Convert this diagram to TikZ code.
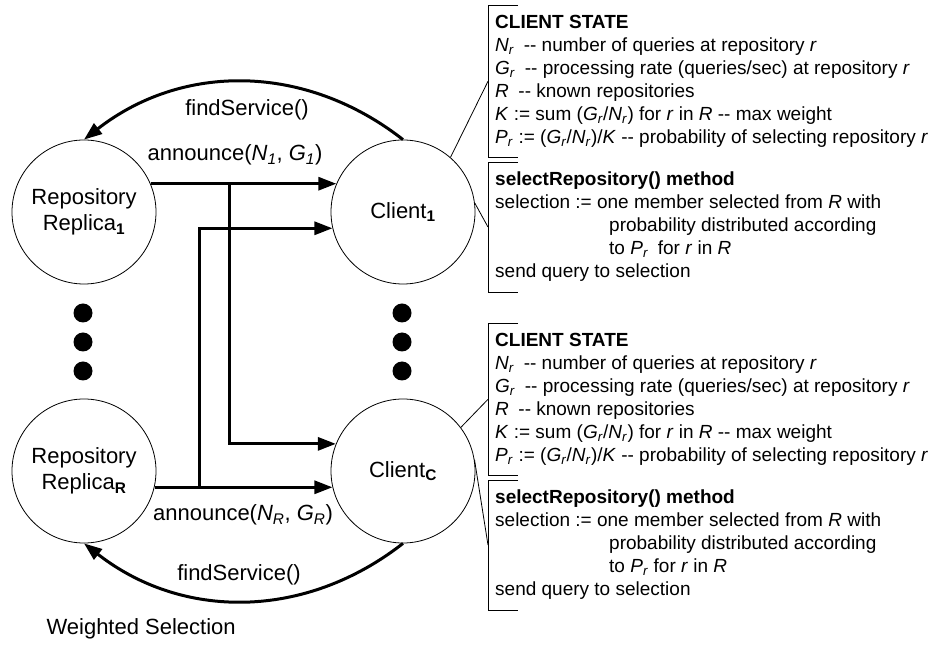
\documentclass[tikz,border=0pt]{standalone}
\usepackage{fontspec}
\setmainfont{Liberation Sans}
\usetikzlibrary{arrows.meta}
\tikzset{site/.style = {shape = circle, draw, line width = 0.8pt, minimum size = 144pt, inner sep = 0pt, align = center, font = \fontsize{22}{26}\selectfont}}
\tikzset{msg/.style = {-{Triangle[length = 18pt, width = 13pt]}, line width = 3pt}}
\tikzset{dot/.style = {shape = circle, fill, minimum size = 19pt, inner sep = 0pt}}
\tikzset{msgtext/.style = {font = \fontsize{22}{26}\selectfont}}
\tikzset{memo/.style = {anchor = north west, align = left, inner xsep = 7pt, inner ysep = 10pt, font = \fontsize{19}{23}\selectfont}}
\tikzset{bracket/.style = {line width = 0.8pt}}
\newcommand{\isub}[2]{\textit{#1}\textsubscript{\textit{#2}}}
\newcommand{\dd}{-{}-}

\begin{document}
\begin{tikzpicture}[x = 1pt, y = 1pt]
			\useasboundingbox (0, 0) rectangle (936, 645);

			\node[site] (rep1) at (84, 433) {Repository\\Replica\textsubscript{\textbf{1}}};
			\node[site] (cli1) at (403, 433) {Client\textsubscript{\textbf{1}}};
			\node[site] (repR) at (84, 174) {Repository\\Replica\textsubscript{\textbf{R}}};
			\node[site] (cliC) at (403, 174) {Client\textsubscript{\textbf{C}}};

			\node[dot] (ld1) at (83, 332) {};
			\node[dot] (ld2) at (83, 303) {};
			\node[dot] (ld3) at (83, 274) {};
			\node[dot] (rd1) at (402, 332) {};
			\node[dot] (rd2) at (402, 303) {};
			\node[dot] (rd3) at (402, 274) {};

			\node[msgtext] (find1) at (247, 535) {findService()};
			\node[msgtext] (ann1) at (235, 490) {announce(\isub{N}{1}, \isub{G}{1})};
			\node[msgtext] (annR) at (243, 130) {announce(\isub{N}{R}, \isub{G}{R})};
			\node[msgtext] (findR) at (239, 70) {findService()};
			\node[msgtext, anchor = west] (title) at (43, 16) {Weighted Selection};

			\node[memo] (st1) at (488, 640) {\textbf{CLIENT STATE}\\
				\isub{N}{r}\enspace\dd{} number of queries at repository \textit{r}\\
				\isub{G}{r}\enspace\dd{} processing rate (queries/sec) at repository \textit{r}\\
				\textit{R}\enspace\dd{} known repositories\\
				\textit{K} := sum (\isub{G}{r}/\isub{N}{r}) for \textit{r} in \textit{R} \dd{} max weight\\
				\isub{P}{r} := (\isub{G}{r}/\isub{N}{r})/\textit{K} \dd{} probability of selecting repository \textit{r}};
			\node[memo] (sel1) at (488, 483) {\textbf{selectRepository() method}\\
				selection := one member selected from \textit{R} with\\
				\hspace*{114pt}probability distributed according\\
				\hspace*{114pt}to \isub{P}{r}\enspace for \textit{r} in \textit{R}\\
				send query to selection};
			\node[memo] (st2) at (488, 322) {\textbf{CLIENT STATE}\\
				\isub{N}{r}\enspace\dd{} number of queries at repository \textit{r}\\
				\isub{G}{r}\enspace\dd{} processing rate (queries/sec) at repository \textit{r}\\
				\textit{R}\enspace\dd{} known repositories\\
				\textit{K} := sum (\isub{G}{r}/\isub{N}{r}) for \textit{r} in \textit{R} \dd{} max weight\\
				\isub{P}{r} := (\isub{G}{r}/\isub{N}{r})/\textit{K} \dd{} probability of selecting repository \textit{r}};
			\node[memo] (sel2) at (488, 165) {\textbf{selectRepository() method}\\
				selection := one member selected from \textit{R} with\\
				\hspace*{114pt}probability distributed according\\
				\hspace*{114pt}to \isub{P}{r} for \textit{r} in \textit{R}\\
				send query to selection};

			\draw[bracket] ([xshift = 30pt]st1.north west) -- (st1.north west) -- (st1.south west) -- ([xshift = 30pt]st1.south west);
			\draw[bracket] ([xshift = 30pt]sel1.north west) -- (sel1.north west) -- (sel1.south west) -- ([xshift = 30pt]sel1.south west);
			\draw[bracket] ([xshift = 30pt]st2.north west) -- (st2.north west) -- (st2.south west) -- ([xshift = 30pt]st2.south west);
			\draw[bracket] ([xshift = 30pt]sel2.north west) -- (sel2.north west) -- (sel2.south west) -- ([xshift = 30pt]sel2.south west);

			\draw[bracket] (cli1.49) to (st1.west);
			\draw[bracket] (cli1.7) to (sel1.west);
			\draw[bracket] (cliC.37) to (st2.west);
			\draw[bracket] (cliC.9) to (sel2.west);

			\path (rep1.23) ++(79, 0) coordinate (j1);
			\path (repR.-13) ++(45, 0) coordinate (j2);

			\draw[msg] (cli1.north) to[bend right = 38] (rep1.north);
			\draw[msg] (cliC.south) to[bend left = 38] (repR.south);
			\draw[msg] (rep1.23) to (cli1.157);
			\draw[msg] (repR.-13) to (cliC.193);
			\draw[msg] (j1) |- (cliC.158);
			\draw[msg] (j2) |- (cli1.193);
		\end{tikzpicture}
\end{document}
